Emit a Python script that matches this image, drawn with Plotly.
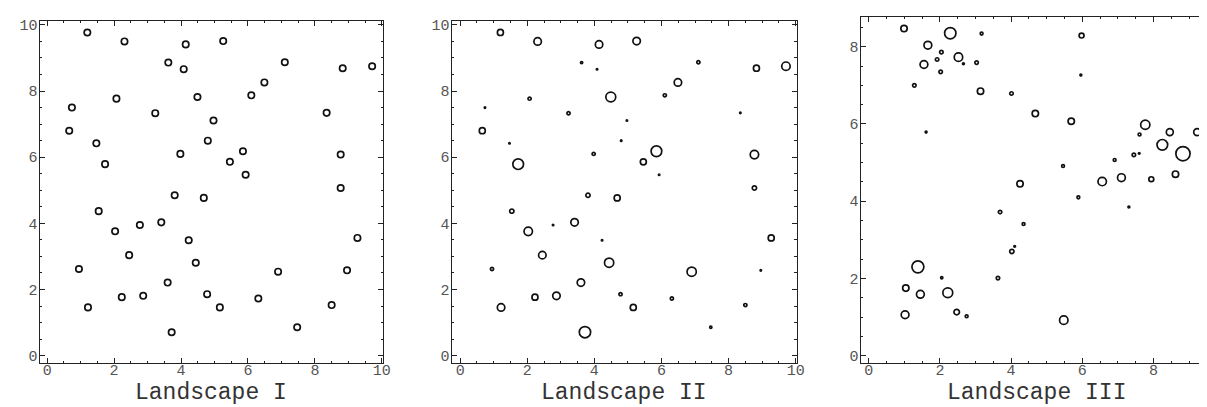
import plotly.graph_objects as go

# ---------------- data ----------------
# Landscapes I and II share the same locations
x_sites = [1.20, 2.31, 4.14, 5.26, 3.62, 4.08, 7.10, 8.83, 9.71, 6.49,
           6.10, 4.49, 2.07, 0.74, 3.23, 8.35, 4.97, 0.66, 4.80, 1.47,
           5.85, 3.98, 8.77, 5.46, 1.73, 5.93, 8.77, 3.81, 4.68, 1.54,
           3.41, 2.77, 2.03, 9.27, 4.23, 2.45, 4.44, 0.95, 8.96, 6.90,
           3.60, 4.78, 2.87, 2.23, 6.31, 8.50, 1.22, 5.16, 7.47, 3.72]
y_sites = [9.77, 9.50, 9.41, 9.51, 8.86, 8.66, 8.87, 8.69, 8.75, 8.26,
           7.87, 7.82, 7.77, 7.50, 7.33, 7.34, 7.11, 6.80, 6.50, 6.42,
           6.18, 6.10, 6.08, 5.86, 5.79, 5.47, 5.07, 4.85, 4.77, 4.37,
           4.03, 3.95, 3.76, 3.56, 3.49, 3.04, 2.81, 2.62, 2.58, 2.54,
           2.21, 1.86, 1.81, 1.77, 1.73, 1.53, 1.46, 1.46, 0.86, 0.71]
# Landscape II weights (relative marker magnitude)
w_land2 = [3.9, 4.8, 4.8, 4.8, 1.5, 1.0, 2.1, 3.9, 5.4, 4.8,
           2.1, 6.3, 2.1, 1.0, 2.1, 1.0, 1.0, 3.9, 1.0, 1.0,
           6.8, 2.1, 5.4, 3.9, 6.8, 1.0, 2.8, 2.8, 3.9, 2.8,
           4.8, 1.0, 5.4, 3.9, 1.0, 4.8, 5.9, 2.1, 1.0, 5.9,
           4.8, 2.1, 4.8, 3.9, 2.1, 2.1, 4.8, 3.9, 1.5, 7.2]
w_land1 = 4.1  # uniform weight in Landscape I

# Landscape III
x_land3 = [0.99, 2.29, 3.17, 5.98, 1.66, 2.04, 1.92, 2.52, 2.66, 3.03,
           1.55, 2.02, 5.96, 1.28, 3.14, 4.01, 4.68, 5.69, 7.77, 1.61,
           8.46, 9.23, 7.61, 8.25, 8.83, 7.45, 7.60, 6.91, 5.46, 8.62,
           7.10, 7.94, 6.56, 4.25, 5.89, 7.31, 3.69, 4.35, 4.10, 4.02,
           1.38, 2.05, 3.63, 1.04, 2.22, 1.45, 2.47, 2.75, 1.02, 5.48]
y_land3 = [8.47, 8.35, 8.34, 8.29, 8.04, 7.86, 7.67, 7.73, 7.56, 7.59,
           7.54, 7.35, 7.27, 7.00, 6.85, 6.79, 6.27, 6.07, 5.98, 5.79,
           5.79, 5.79, 5.73, 5.46, 5.23, 5.20, 5.24, 5.07, 4.91, 4.70,
           4.61, 4.57, 4.51, 4.45, 4.10, 3.85, 3.72, 3.41, 2.83, 2.70,
           2.30, 2.02, 2.01, 1.75, 1.63, 1.59, 1.13, 1.02, 1.06, 0.92]
w_land3 = [4.1, 7.2, 1.9, 3.2, 5.0, 2.3, 2.3, 5.4, 1.3, 2.3,
           5.0, 2.3, 1.2, 2.3, 4.1, 2.3, 4.1, 4.1, 5.9, 1.3,
           4.5, 4.5, 1.9, 6.8, 9.0, 2.3, 1.1, 1.9, 1.9, 4.1,
           5.0, 3.2, 5.4, 4.1, 1.9, 1.3, 2.3, 1.9, 1.1, 2.8,
           7.6, 1.5, 2.3, 4.1, 6.3, 5.0, 3.6, 1.9, 5.0, 5.4]

titles = ["Landscape I", "Landscape II", "Landscape III"]
tick_vals_xy = [0, 2, 4, 6, 8, 10]

# ---------------- styling ----------------
LW = 1.7
FONT = "Liberation Mono"


def sizes(ws):
    return [max(1.6 * w - 0.2, 0.8) for w in ws]


fig = go.Figure()
panels = [
    (x_sites, y_sites, [w_land1] * len(x_sites)),
    (x_sites, y_sites, w_land2),
    (x_land3, y_land3, w_land3),
]
for i, (xs, ys, ws) in enumerate(panels):
    sfx = "" if i == 0 else str(i + 1)
    fig.add_trace(go.Scatter(
        x=xs, y=ys, mode="markers", xaxis="x" + sfx, yaxis="y" + sfx,
        marker=dict(size=sizes(ws), color="white", opacity=1,
                    line=dict(color="#111111", width=LW)),
        hoverinfo="x+y", showlegend=False))

W, H = 1207, 407
x_domains = [(32 / W, 377.7 / W), (446.7 / W, 794.3 / W), (858.3 / W, 1.0)]
y_domains = [(1 - 357.7 / H, 1 - 10.7 / H), (1 - 357.7 / H, 1 - 10.7 / H),
             (1 - 357.7 / H, 1 - 6.7 / H)]
x_ranges = [(-0.22, 10.04), (-0.25, 10.04), (-0.23, (1207 - 866.7) / 35.8)]
y_ranges = [(-0.23, 10.13), (-0.23, 10.13), (-0.197, 8.78)]

axis_common = dict(
    showgrid=False, zeroline=False, showline=True, linecolor="#222222",
    linewidth=1.3, mirror="allticks", ticks="inside", ticklen=5,
    tickwidth=1, tickcolor="#222222",
    minor=dict(ticks="inside", ticklen=2.5, dtick=0.5, tickcolor="#222222",
               tickwidth=1, showgrid=False),
    tickfont=dict(family=FONT, size=15, color="#555555"),
    tickmode="array", tickvals=tick_vals_xy,
    fixedrange=True,
)

layout = dict(
    width=W, height=H, margin=dict(l=0, r=0, t=0, b=0),
    paper_bgcolor="white", plot_bgcolor="white", showlegend=False,
)
for i in range(3):
    sfx = "" if i == 0 else str(i + 1)
    layout["xaxis" + sfx] = dict(axis_common, domain=list(x_domains[i]),
                                 range=list(x_ranges[i]),
                                 anchor="y" + sfx, ticklabelstandoff=-7)
    layout["yaxis" + sfx] = dict(axis_common, domain=list(y_domains[i]),
                                 range=list(y_ranges[i]),
                                 anchor="x" + sfx, ticklabelstandoff=-2)
fig.update_layout(**layout)

title_x = [(32 + 377.7) / 2 / W, (446.7 + 794.3) / 2 / W, (866.7 + 4.5 * 35.8 + 8) / W]
for i, t in enumerate(titles):
    fig.add_annotation(text=t, x=title_x[i], y=1 - 388 / H, xref="paper", yref="paper",
                       showarrow=False, xanchor="center", yanchor="middle",
                       font=dict(family=FONT, size=23, color="#333333"))

fig.write_html("out.html")
